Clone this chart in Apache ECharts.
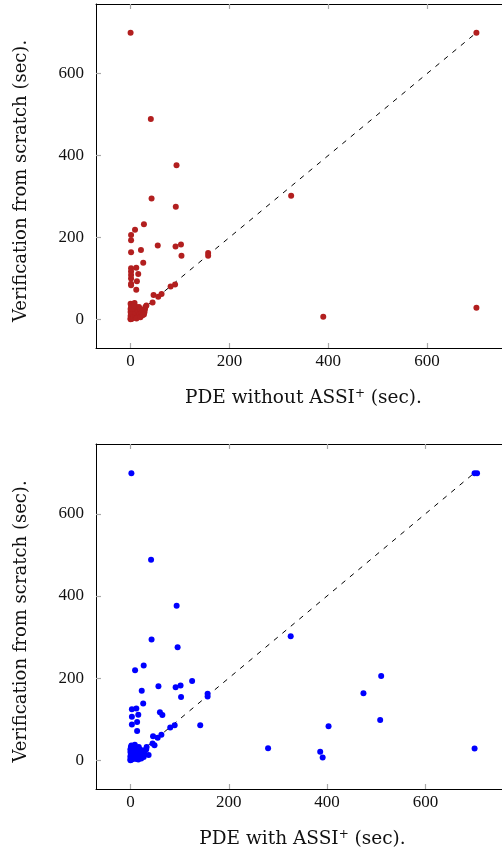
<!DOCTYPE html>
<html>
<head>
<meta charset="utf-8">
<script src="https://cdn.jsdelivr.net/npm/echarts@6/dist/echarts.min.js"></script>
<style>html,body{margin:0;padding:0;background:#fff;}#c{width:502px;height:852px;}</style>
</head>
<body>
<div id="c"></div>
<script>
// ---- data ----
var tickValues = [0, 200, 400, 600];
var diagonal = [[0, 0], [700, 700]];
var withoutAssi = [
  [0,700],[41,489],[93,376],[42.5,295],[91.5,275],[325,302],[27,232],[9,219],[1,206],[1,193],
  [1,164],[21,169],[55,180],[91,178],[102,183],[103,155],[157,162],[157,155],[25.6,138],
  [1,125],[1,117],[1,108],[1,100],[1,87],[1,83],[11.5,126],[15.5,111],[12.8,93],[11.5,72],
  [90,85],[81,80],[46.5,59.5],[56,55],[62.7,62],[44.5,41],[390,6.5],[700,28],[700,700],
  [0,0],[0,2],[1,4],[2,1],[0,8],[1,12],[3,6],[4,15],[2,20],[5,3],[6,10],[0,18],[0,25],[1,30],
  [2,35],[0,38],[8,40],[6,28],[8,22],[10,8],[10,16],[12,30],[14,5],[15,20],[17,30],[18,12],
  [20,25],[22,15],[25,20],[28,17],[29,24],[30,30],[32,34],[12,2],[4,32],[3,26],[7,34],[20,5],
  [24,10],[27,12]
];
var withAssi = [
  [2,699],[42,488],[94,376],[43,294],[96,275],[326,302],[27,231],[9.5,219],[125.5,193],[23,169],
  [57,180],[92,178],[102,182],[103,154],[157,162],[157,155],[26,138],[3,124],[12,126],[3,106],
  [16,111],[60,117],[65,110],[3,87],[13.6,93],[13.6,71.5],[90,85],[81,80],[142,85],[46,58.5],
  [55.5,54.5],[63,62],[280,29],[45,41],[49,36.5],[510,205],[474,163],[403,83],[508,98],[386,21],
  [391,6.5],[700,28.5],[700,699],[705,699],
  [0,0],[0,3],[1,6],[2,1],[0,10],[1,14],[3,8],[4,18],[2,22],[5,3],[6,12],[0,20],[0,27],[1,32],
  [2,36],[9,38],[6,30],[8,24],[10,10],[10,18],[12,28],[14,6],[15,22],[17,32],[18,14],[20,26],
  [22,16],[25,22],[28,18],[30,25],[32,26],[33,32],[37,13],[12,3],[4,30],[7,34],[20,6],[24,11],
  [27,8],[16,2],[22,4]
];
var xNames = ['{a|PDE without ASSI}{s|+}{a| (sec).}', '{a|PDE with ASSI}{s|+}{a| (sec).}'];
var yName = 'Verification from scratch (sec).';

// ---- chart ----
var FONT = 'Liberation Serif';
var NFONT = 'DejaVu Serif';
var tickStyle = {show: true, inside: true, length: 5, lineStyle: {color: '#a8a8a8', width: 1.2}, customValues: tickValues};
var lineStyle = {show: true, onZero: false, lineStyle: {color: '#000', width: 1}};
var rich = {
  a: {fontFamily: NFONT, fontSize: 18.5, color: '#111'},
  s: {fontFamily: NFONT, fontSize: 12, color: '#111', padding: [0, 0, 8, 0]}
};
function xAx(gi, pos, name) {
  var o = {type: 'value', gridIndex: gi, position: pos, min: -70, max: 770,
    axisLine: lineStyle, axisTick: tickStyle, splitLine: {show: false},
    axisLabel: {show: pos === 'bottom', customValues: tickValues, fontFamily: FONT, fontSize: 17, color: '#111', margin: 5}};
  if (name) { o.name = name; o.nameLocation = 'middle'; o.nameGap = 40; o.nameTextStyle = {rich: rich}; }
  return o;
}
function yAx(gi, pos, name) {
  var o = {type: 'value', gridIndex: gi, position: pos, min: -70, max: 770,
    axisLine: lineStyle, axisTick: tickStyle, splitLine: {show: false},
    axisLabel: {show: pos === 'left', customValues: tickValues, fontFamily: FONT, fontSize: 17, color: '#111', margin: 12}};
  if (name) { o.name = name; o.nameLocation = 'middle'; o.nameGap = 66; o.nameRotate = 90;
    o.nameTextStyle = {fontFamily: NFONT, fontSize: 18, color: '#111', padding: [0, 10, 0, 0]}; }
  return o;
}
var chart = echarts.init(document.getElementById('c'), null, {renderer: 'canvas'});
chart.setOption({
  animation: false,
  backgroundColor: '#fff',
  grid: [
    {left: 96, top: 4, width: 415, height: 344, outerBoundsMode: 'none', containLabel: false},
    {left: 96, top: 444, width: 413, height: 345, outerBoundsMode: 'none', containLabel: false}
  ],
  xAxis: [xAx(0, 'bottom', xNames[0]), xAx(0, 'top'), xAx(1, 'bottom', xNames[1]), xAx(1, 'top')],
  yAxis: [yAx(0, 'left', yName), yAx(0, 'right'), yAx(1, 'left', yName), yAx(1, 'right')],
  series: [
    {type: 'line', xAxisIndex: 0, yAxisIndex: 0, data: diagonal, symbol: 'none', z: 1,
     lineStyle: {color: '#000', width: 1, type: [5, 6]}},
    {type: 'scatter', xAxisIndex: 0, yAxisIndex: 0, data: withoutAssi, symbolSize: 6, z: 3,
     itemStyle: {color: '#b21f1f', opacity: 1}},
    {type: 'line', xAxisIndex: 2, yAxisIndex: 2, data: diagonal, symbol: 'none', z: 1,
     lineStyle: {color: '#000', width: 1, type: [5, 6]}},
    {type: 'scatter', xAxisIndex: 2, yAxisIndex: 2, data: withAssi, symbolSize: 6, z: 3,
     itemStyle: {color: '#0000ff', opacity: 1}}
  ]
});
</script>
</body>
</html>
